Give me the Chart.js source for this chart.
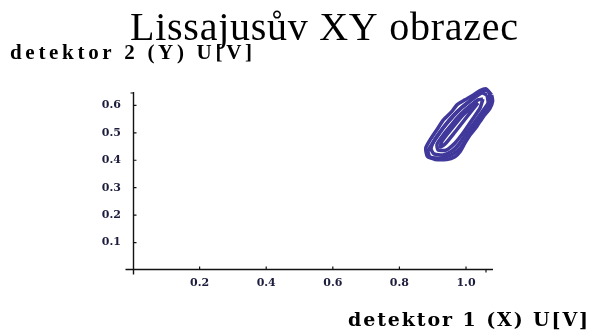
<!DOCTYPE html>
<html>
<head>
<meta charset="utf-8">
<script src="https://cdn.jsdelivr.net/npm/chart.js@4/dist/chart.umd.min.js"></script>
<style>
  body { margin: 0; background: #fff; }
  #wrap { width: 594px; height: 331px; }
</style>
</head>
<body>
<div id="wrap"><canvas id="c" width="594" height="331"></canvas></div>
<script>
const titleText = 'Lissajusův XY obrazec';
const xAxisTitle = 'detektor 1 (X) U[V]';
const yAxisTitle = 'detektor 2 (Y) U[V]';

const xTicks = [0.2, 0.4, 0.6, 0.8, 1.0];
const yTicks = [0.1, 0.2, 0.3, 0.4, 0.5, 0.6];
const xRange = [0, 1.06];
const yRange = [0, 0.645];

// traces of the loop as [x, y]
const traceA = [[1.077, 0.638], [1.080, 0.616], [1.072, 0.589], [1.052, 0.559], [1.032, 0.522], [1.012, 0.492],
  [0.997, 0.463], [0.982, 0.431], [0.967, 0.413], [0.942, 0.403], [0.907, 0.403], [0.884, 0.414],
  [0.879, 0.444], [0.892, 0.474], [0.912, 0.510], [0.932, 0.547], [0.957, 0.577], [0.972, 0.601],
  [0.997, 0.620], [1.022, 0.638], [1.042, 0.654], [1.060, 0.660], [1.077, 0.638]];
const traceB = [[1.063, 0.638], [1.066, 0.609], [1.048, 0.576], [1.024, 0.536], [1.000, 0.496], [0.979, 0.459],
  [0.958, 0.434], [0.931, 0.419], [0.904, 0.423], [0.895, 0.441], [0.904, 0.470], [0.925, 0.507],
  [0.949, 0.543], [0.973, 0.576], [1.000, 0.605], [1.027, 0.630], [1.048, 0.645], [1.063, 0.638]];
const traceC = [[1.051, 0.623], [1.042, 0.590], [1.018, 0.547], [0.991, 0.499], [0.967, 0.463], [0.940, 0.437],
  [0.916, 0.437], [0.913, 0.459], [0.934, 0.496], [0.958, 0.532], [0.985, 0.569], [1.012, 0.598],
  [1.036, 0.620], [1.051, 0.623]];
const traceD = [[1.069, 0.649], [1.072, 0.605], [1.057, 0.583], [1.036, 0.543], [1.018, 0.514], [1.003, 0.481],
  [0.985, 0.448], [0.961, 0.423], [0.925, 0.408], [0.892, 0.412], [0.886, 0.434], [0.898, 0.459],
  [0.916, 0.492], [0.940, 0.532], [0.961, 0.561], [0.985, 0.590], [1.012, 0.616], [1.036, 0.638],
  [1.057, 0.656], [1.069, 0.649]];
const traceE = [[1.036, 0.609], [1.000, 0.554], [0.967, 0.503], [0.937, 0.459], [0.922, 0.448], [0.928, 0.470],
  [0.958, 0.517], [0.991, 0.565], [1.024, 0.601], [1.036, 0.609]];

const traces = [traceA, traceB, traceC, traceD, traceE];
const lineColor = '#40389a';
const tickColor = '#1c1c3c';

const near = (v, list) => list.find(t => Math.abs(t - v) < 1e-6);

// fit text to a target width by spreading the letters
function fitText(ctx, text, x, y, width) {
  ctx.letterSpacing = '0px';
  const w = ctx.measureText(text).width;
  const ls = (width - w) / (text.length - 1);
  ctx.letterSpacing = ls + 'px';
  ctx.fillText(text, x, y);
  ctx.letterSpacing = '0px';
}

const decor = {
  id: 'decor',
  afterDraw(chart) {
    const ctx = chart.ctx;
    const xs = chart.scales.x, ys = chart.scales.y;
    const x0 = Math.round(xs.getPixelForValue(0)) + 0.5;
    const y0 = Math.round(ys.getPixelForValue(0)) - 0.5;
    const xEnd = xs.getPixelForValue(xRange[1]);
    const yEnd = ys.getPixelForValue(yRange[1]);
    ctx.save();
    ctx.strokeStyle = '#111';
    ctx.lineWidth = 1.4;
    ctx.beginPath();
    ctx.moveTo(x0 - 8, y0); ctx.lineTo(xEnd + 7, y0);
    ctx.moveTo(x0, y0 + 5); ctx.lineTo(x0, yEnd - 1);
    ctx.stroke();
    ctx.lineWidth = 1.2;
    ctx.beginPath();
    xTicks.forEach(v => {
      const p = xs.getPixelForValue(v);
      ctx.moveTo(p, y0); ctx.lineTo(p, y0 - 3);
    });
    yTicks.forEach(v => {
      const p = ys.getPixelForValue(v);
      ctx.moveTo(x0, p); ctx.lineTo(x0 + 3, p);
    });
    ctx.moveTo(xEnd, y0); ctx.lineTo(xEnd, y0 + 3);
    ctx.moveTo(x0, yEnd); ctx.lineTo(x0 - 3, yEnd);
    ctx.stroke();

    ctx.fillStyle = '#000';
    ctx.textBaseline = 'alphabetic';
    ctx.textAlign = 'left';
    ctx.font = '40px "Liberation Serif"';
    fitText(ctx, titleText, 130, 40, 388);
    ctx.font = 'bold 21px "Liberation Serif"';
    fitText(ctx, yAxisTitle, 10, 59, 242);
    ctx.font = 'bold 19px "DejaVu Serif"';
    fitText(ctx, xAxisTitle, 348, 326, 240);
    ctx.restore();
  }
};

new Chart(document.getElementById('c'), {
  type: 'scatter',
  data: {
    datasets: traces.map(t => ({
      data: t.map(p => ({ x: p[0], y: p[1] })),
      showLine: true,
      borderColor: lineColor,
      backgroundColor: lineColor,
      borderWidth: 3.5,
      tension: 0.2,
      pointRadius: 0,
      clip: false
    }))
  },
  options: {
    responsive: false,
    animation: false,
    layout: { padding: { top: 93, right: 108, left: 0, bottom: 0 } },
    plugins: { legend: { display: false }, tooltip: { enabled: false } },
    scales: {
      x: {
        type: 'linear', min: xRange[0], max: xRange[1],
        grid: { display: false, drawTicks: false },
        border: { display: false },
        afterFit: s => { s.height = 61; },
        ticks: {
          stepSize: 0.2, includeBounds: false, autoSkip: false, maxRotation: 0, padding: 7, color: tickColor,
          font: { family: 'DejaVu Serif', weight: 'bold', size: 11 },
          callback: v => { const t = near(v, xTicks); return t === undefined ? '' : t.toFixed(1); }
        }
      },
      y: {
        type: 'linear', min: yRange[0], max: yRange[1],
        grid: { display: false, drawTicks: false },
        border: { display: false },
        afterFit: s => { s.width = 133; },
        ticks: {
          stepSize: 0.1, includeBounds: false, autoSkip: false, padding: 12, color: tickColor,
          font: { family: 'DejaVu Serif', weight: 'bold', size: 11 },
          callback: v => { const t = near(v, yTicks); return t === undefined ? '' : t.toFixed(1); }
        }
      }
    }
  },
  plugins: [decor]
});
</script>
</body>
</html>
